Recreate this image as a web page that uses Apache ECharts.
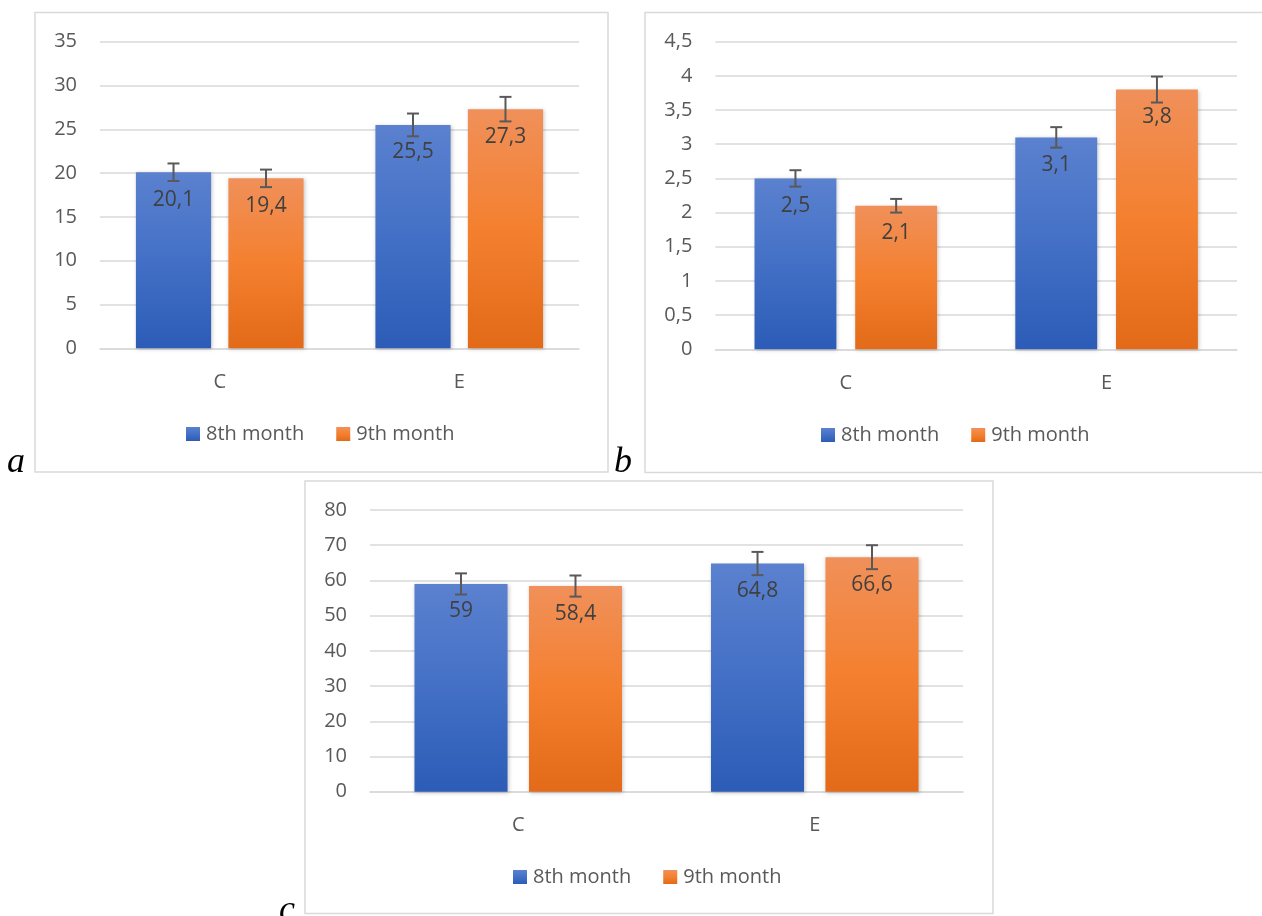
<!DOCTYPE html>
<html>
<head>
<meta charset="utf-8">
<title>8th vs 9th month</title>
<script src="https://cdn.jsdelivr.net/npm/echarts@6/dist/echarts.min.js"></script>
<style>
  html, body { margin: 0; padding: 0; background: #ffffff; }
  #chart { width: 1262px; height: 916px; }
</style>
</head>
<body>
<div id="chart"></div>
<script>
// Groups on the category axis
var categories = ['C', 'E'];
var seriesNames = ['8th month', '9th month'];

// Panel a
var aMonth8 = [20.1, 25.5];
var aMonth9 = [19.4, 27.3];
var aErr8 = [1.0, 1.3];
var aErr9 = [1.0, 1.4];
var aTicks = { min: 0, max: 35, interval: 5 };

// Panel b
var bMonth8 = [2.5, 3.1];
var bMonth9 = [2.1, 3.8];
var bErr8 = [0.12, 0.15];
var bErr9 = [0.1, 0.19];
var bTicks = { min: 0, max: 4.5, interval: 0.5 };

// Panel c
var cMonth8 = [59, 64.8];
var cMonth9 = [58.4, 66.6];
var cErr8 = [3.0, 3.3];
var cErr9 = [3.0, 3.4];
var cTicks = { min: 0, max: 80, interval: 10 };

var panelLetters = ['a', 'b', 'c'];

var FONT = '"Open Sans", "Liberation Sans", sans-serif';
var AXIS_TEXT = '#595959';
var VALUE_TEXT = '#404040';
var GRID_LINE = '#d9d9d9';

function comma(v) { return String(v).replace('.', ','); }

var blueFill = new echarts.graphic.LinearGradient(0, 0, 0, 1, [
  { offset: 0, color: '#5b81cf' },
  { offset: 0.5, color: '#4370c6' },
  { offset: 1, color: '#2c5cb7' }
]);
var orangeFill = new echarts.graphic.LinearGradient(0, 0, 0, 1, [
  { offset: 0, color: '#f0905a' },
  { offset: 0.5, color: '#f4802f' },
  { offset: 1, color: '#e26a18' }
]);
var fills = [blueFill, orangeFill];

// Bar layout shared by bars and error whiskers
var CAT_GAP = 0.30;
var BAR_GAP = 0.23;
var barFrac = (1 - CAT_GAP) / (2 + BAR_GAP);
var barOffset = barFrac / 2 + (barFrac * BAR_GAP) / 2;

function whiskers(sign) {
  return function (params, api) {
    var idx = api.value(0);
    var lo = api.coord([idx, api.value(1)]);
    var hi = api.coord([idx, api.value(2)]);
    var band = api.size([1, 0])[0];
    var cx = lo[0] + sign * band * barOffset;
    var half = 6;
    var style = { stroke: '#595959', lineWidth: 2 };
    return {
      type: 'group',
      children: [
        { type: 'line', shape: { x1: cx, y1: hi[1], x2: cx, y2: lo[1] }, style: style },
        { type: 'line', shape: { x1: cx - half, y1: hi[1], x2: cx + half, y2: hi[1] }, style: style },
        { type: 'line', shape: { x1: cx - half, y1: lo[1], x2: cx + half, y2: lo[1] }, style: style }
      ]
    };
  };
}

var panels = [
  { m8: aMonth8, m9: aMonth9, e8: aErr8, e9: aErr9, ticks: aTicks,
    grid: { left: 100, top: 41.7, width: 479, height: 306.6 },
    legend: { left: 186, top: 424 } },
  { m8: bMonth8, m9: bMonth9, e8: bErr8, e9: bErr9, ticks: bTicks,
    grid: { left: 715.4, top: 41.7, width: 521.6, height: 307.6 },
    legend: { left: 821, top: 425 } },
  { m8: cMonth8, m9: cMonth9, e8: cErr8, e9: cErr9, ticks: cTicks,
    grid: { left: 370, top: 510, width: 593, height: 281.7 },
    legend: { left: 513, top: 867 } }
];

var grids = [], xAxes = [], yAxes = [], legends = [], series = [];

panels.forEach(function (p, gi) {
  grids.push({ left: p.grid.left, top: p.grid.top, width: p.grid.width, height: p.grid.height, containLabel: false });
  xAxes.push({
    type: 'category', gridIndex: gi, data: categories,
    axisLine: { show: true, lineStyle: { color: GRID_LINE, width: 1.5 } },
    axisTick: { show: false },
    axisLabel: { color: AXIS_TEXT, fontFamily: FONT, fontSize: 20, margin: 24 }
  });
  yAxes.push({
    type: 'value', gridIndex: gi,
    min: p.ticks.min, max: p.ticks.max, interval: p.ticks.interval,
    axisLine: { show: false }, axisTick: { show: false },
    splitLine: { lineStyle: { color: GRID_LINE, width: 1.5 } },
    axisLabel: { color: AXIS_TEXT, fontFamily: FONT, fontSize: 20, margin: 23, formatter: comma }
  });
  legends.push({
    left: p.legend.left, top: p.legend.top, orient: 'horizontal', padding: 0,
    data: seriesNames, icon: 'rect', itemWidth: 14, itemHeight: 14, itemGap: 32,
    selectedMode: false,
    textStyle: { color: AXIS_TEXT, fontFamily: FONT, fontSize: 20, padding: [0, 0, 0, 1] }
  });
  [p.m8, p.m9].forEach(function (vals, si) {
    series.push({
      name: seriesNames[si], type: 'bar', xAxisIndex: gi, yAxisIndex: gi,
      data: vals,
      barCategoryGap: (CAT_GAP * 100) + '%', barGap: (BAR_GAP * 100) + '%',
      itemStyle: {
        color: fills[si],
        shadowBlur: 4, shadowColor: 'rgba(0,0,0,0.22)', shadowOffsetX: 1, shadowOffsetY: 1
      },
      label: {
        show: true, position: 'insideTop', distance: 17,
        color: VALUE_TEXT, fontFamily: FONT, fontSize: 21,
        formatter: function (prm) { return comma(prm.value); }
      },
      emphasis: { disabled: true }
    });
  });
  [[p.m8, p.e8, -1], [p.m9, p.e9, 1]].forEach(function (set) {
    var vals = set[0], errs = set[1];
    series.push({
      type: 'custom', xAxisIndex: gi, yAxisIndex: gi, z: 5,
      renderItem: whiskers(set[2]),
      data: vals.map(function (v, i) {
        return [i, +(v - errs[i]).toFixed(3), +(v + errs[i]).toFixed(3)];
      }),
      silent: true
    });
  });
});

// Panel frames and italic panel letters
var frameStyle = { fill: 'none', stroke: '#d9d9d9', lineWidth: 1.5 };
var letterFont = 'italic 36px "Liberation Serif", "DejaVu Serif", serif';
var graphics = [
  { type: 'rect', shape: { x: 35, y: 12.5, width: 573, height: 459.5 }, style: frameStyle, silent: true },
  { type: 'rect', shape: { x: 645, y: 12.5, width: 700, height: 460 }, style: frameStyle, silent: true },
  { type: 'rect', shape: { x: 305, y: 481, width: 688, height: 432.5 }, style: frameStyle, silent: true },
  { type: 'text', x: 7, y: 481, style: { text: panelLetters[0], font: letterFont, fill: '#000', verticalAlign: 'bottom' } },
  { type: 'text', x: 614, y: 481, style: { text: panelLetters[1], font: letterFont, fill: '#000', verticalAlign: 'bottom' } },
  { type: 'text', x: 279, y: 929, style: { text: panelLetters[2], font: letterFont, fill: '#000', verticalAlign: 'bottom' } }
];

var chart = echarts.init(document.getElementById('chart'), null, { renderer: 'canvas' });
chart.setOption({
  backgroundColor: '#ffffff',
  animation: false,
  grid: grids,
  xAxis: xAxes,
  yAxis: yAxes,
  legend: legends,
  series: series,
  graphic: graphics
});
</script>
</body>
</html>
